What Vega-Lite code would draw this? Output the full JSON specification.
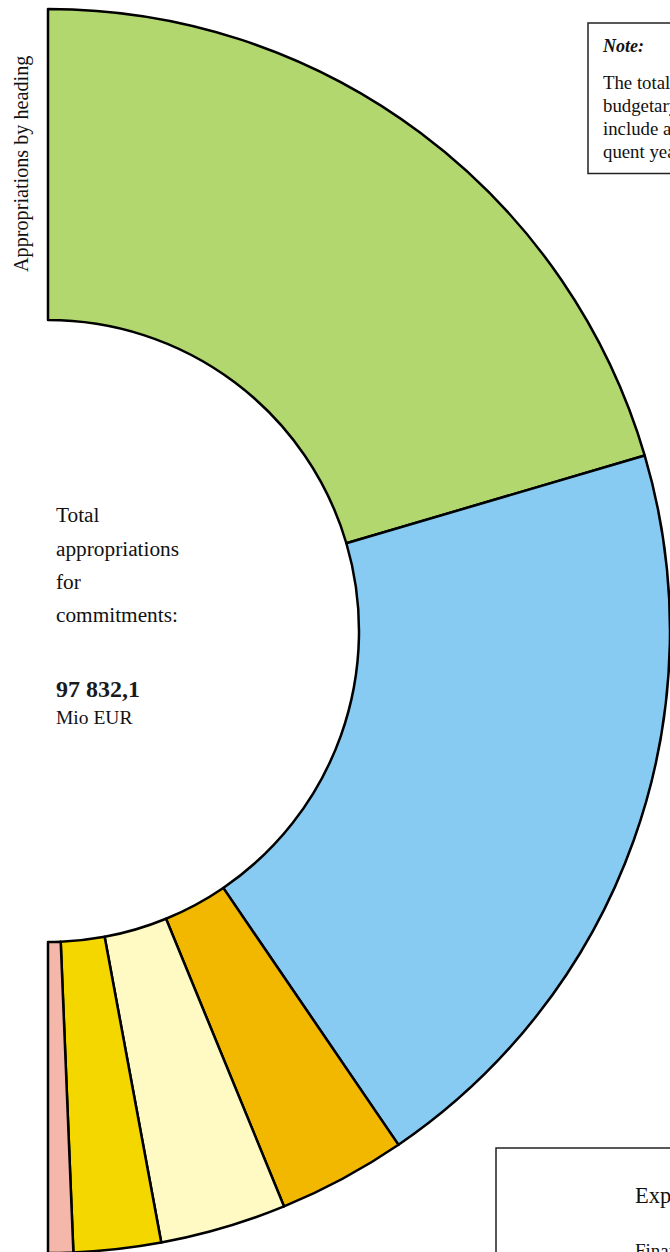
{
  "$schema": "https://vega.github.io/schema/vega-lite/v6.json",
  "width": 96,
  "height": 1262,
  "autosize": {"type": "none"},
  "padding": {"left": 0, "top": 0, "right": 574, "bottom": 0},
  "background": "white",
  "config": {"view": {"stroke": null}, "font": "Liberation Serif"},
  "layer": [
    {
      "data": {"values": [
        {"heading": "1 Common agricultural policy", "order": 1, "appropriations": 40010.0},
        {"heading": "2 Structural operations", "order": 2, "appropriations": 39180.0},
        {"heading": "3 Internal policies", "order": 3, "appropriations": 6520.0},
        {"heading": "4 External action", "order": 4, "appropriations": 6420.0},
        {"heading": "5 Administrative expenditure", "order": 5, "appropriations": 4430.0},
        {"heading": "6 Reserves", "order": 6, "appropriations": 1272.1}
      ]},
      "mark": {"type": "arc", "innerRadius": 311, "outerRadius": 622, "stroke": "black", "strokeWidth": 2.5, "strokeJoin": "round"},
      "encoding": {
        "theta": {"field": "appropriations", "type": "quantitative", "stack": true, "scale": {"range": [0, 3.14159265]}},
        "color": {
          "field": "heading", "type": "nominal", "legend": null,
          "scale": {
            "domain": ["1 Common agricultural policy", "2 Structural operations", "3 Internal policies", "4 External action", "5 Administrative expenditure", "6 Reserves"],
            "range": ["#B2D76F", "#87CBF3", "#F2B800", "#FFFAC3", "#F5D700", "#F5B7AA"]
          }
        },
        "order": {"field": "order", "type": "quantitative"}
      }
    },
    {
      "data": {"values": [{}]},
      "mark": {"type": "text", "align": "left", "baseline": "alphabetic", "fontSize": 20.2, "angle": 270, "dx": 359, "dy": -20, "color": "#111"},
      "encoding": {"text": {"value": "Appropriations by heading"}}
    },
    {
      "data": {"values": [{}]},
      "mark": {"type": "text", "align": "left", "baseline": "alphabetic", "fontSize": 21.3, "lineHeight": 33.4, "dx": 8, "dy": -108.7, "color": "#111"},
      "encoding": {"text": {"value": ["Total", "appropriations", "for", "commitments:"]}}
    },
    {
      "data": {"values": [{}]},
      "mark": {"type": "text", "align": "left", "baseline": "alphabetic", "fontSize": 24, "fontWeight": "bold", "dx": 8, "dy": 65.7, "color": "#1a1a1a"},
      "encoding": {"text": {"value": "97 832,1"}}
    },
    {
      "data": {"values": [{}]},
      "mark": {"type": "text", "align": "left", "baseline": "alphabetic", "fontSize": 19.5, "dx": 8, "dy": 93, "color": "#111"},
      "encoding": {"text": {"value": "Mio EUR"}}
    },
    {
      "data": {"values": [{}]},
      "mark": {"type": "rect", "x": 588, "y": 23, "x2": 760, "y2": 173.5, "fill": "white", "stroke": "#222", "strokeWidth": 1.5},
      "encoding": {}
    },
    {
      "data": {"values": [{}]},
      "mark": {"type": "text", "align": "left", "baseline": "alphabetic", "fontSize": 18, "fontWeight": "bold", "fontStyle": "italic", "dx": 555, "dy": -579.3, "color": "#111"},
      "encoding": {"text": {"value": "Note:"}}
    },
    {
      "data": {"values": [{}]},
      "mark": {"type": "text", "align": "left", "baseline": "alphabetic", "fontSize": 18.8, "lineHeight": 23, "dx": 555, "dy": -541.7, "color": "#111"},
      "encoding": {"text": {"value": ["The total appropriations for", "budgetary headings 1 to 6", "include amounts for subse-", "quent years."]}}
    },
    {
      "data": {"values": [{}]},
      "mark": {"type": "rect", "x": 496, "y": 1148, "x2": 760, "y2": 1320, "fill": "white", "stroke": "#222", "strokeWidth": 1.5},
      "encoding": {}
    },
    {
      "data": {"values": [{}]},
      "mark": {"type": "text", "align": "left", "baseline": "alphabetic", "fontSize": 22.5, "dx": 587, "dy": 572.3, "color": "#111"},
      "encoding": {"text": {"value": "Expenditure"}}
    },
    {
      "data": {"values": [{}]},
      "mark": {"type": "text", "align": "left", "baseline": "alphabetic", "fontSize": 19, "dx": 587, "dy": 626, "color": "#111"},
      "encoding": {"text": {"value": "Financial framework"}}
    }
  ]
}
